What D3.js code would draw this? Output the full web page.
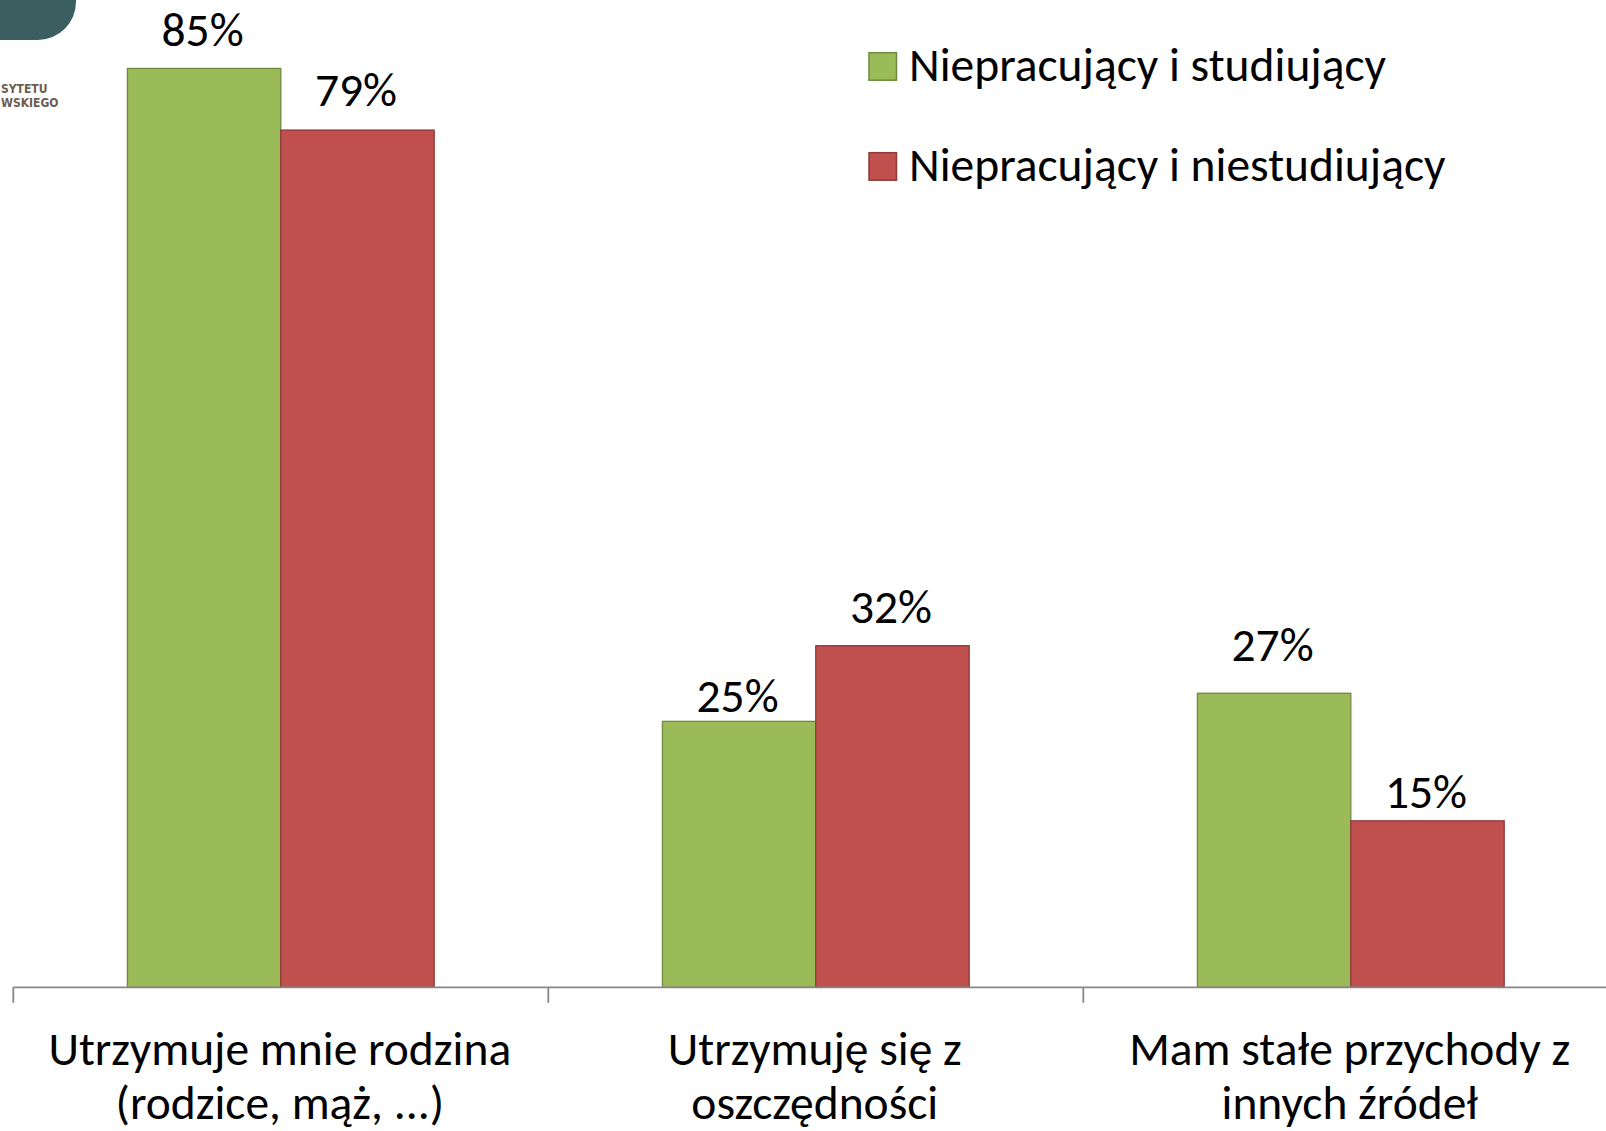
<!DOCTYPE html>
<html>
<head>
<meta charset="utf-8">
<script src="https://cdn.jsdelivr.net/npm/d3@7"></script>
<style>
  body { margin: 0; background: #fff; }
  svg { display: block; }
  text { font-family: Carlito, Calibri, Lato, sans-serif; fill: #000; }
  text.logo { font-family: "DejaVu Sans Condensed", sans-serif; font-weight: bold; font-size: 12px; fill: #6c5e4f; }
</style>
</head>
<body>
<div id="app"></div>
<script>
// categories (two lines each)
const categories = [
	["Utrzymuje mnie rodzina", "(rodzice, mąż, ...)"],
	["Utrzymuję się z", "oszczędności"],
	["Mam stałe przychody z", "innych źródeł"]
];
const seriesNames = ["Niepracujący i studiujący", "Niepracujący i niestudiujący"];
const studying = [85.0, 24.6, 27.2];
const notStudying = [79.3, 31.6, 15.4];

// label nudges (px above bar top)
const labelGapStudying = [22, 9, 32];
const labelGapNotStudying = [24, 23, 13];

const colors = ["#9bbb59", "#c0504d"];
const strokes = ["#6f8a3c", "#8e3a37"];

const W = 1606, H = 1131;
const axisY = 987.3;

const svg = d3.select("#app").append("svg")
	.attr("width", W)
	.attr("height", H);

const catKeys = categories.map(c => c.join(" "));

let x = d3.scaleBand()
	.domain(catKeys)
	.range([13.3, 13.3 + 3 * 535])
	.padding(0);

let xs = d3.scaleBand()
	.domain([0, 1])
	.range([0, x.bandwidth()])
	.paddingInner(0)
	.paddingOuter(0.744);

let y = d3.scaleLinear()
	.domain([0, 100])
	.range([axisY, axisY - 1081]);

const rows = [];
catKeys.forEach(function(k, i) {
	rows.push({ cat: k, s: 0, value: studying[i], gap: labelGapStudying[i] });
	rows.push({ cat: k, s: 1, value: notStudying[i], gap: labelGapNotStudying[i] });
});

// logo fragment (top-left corner)
svg.append("rect")
	.attr("x", -60)
	.attr("y", -60)
	.attr("width", 136)
	.attr("height", 100)
	.attr("rx", 38)
	.attr("fill", "#3b5f61");

svg.append("text").attr("class", "logo").attr("x", 1).attr("y", 93.3).text("SYTETU");
svg.append("text").attr("class", "logo").attr("x", 1).attr("y", 106.8).text("WSKIEGO");

// bars
svg.selectAll(".bar")
	.data(rows)
	.enter()
	.append("rect")
		.attr("class", "bar")
		.attr("x", d => x(d.cat) + xs(d.s))
		.attr("y", d => y(d.value))
		.attr("width", xs.bandwidth())
		.attr("height", d => axisY - y(d.value))
		.attr("fill", d => colors[d.s])
		.attr("stroke", d => strokes[d.s])
		.attr("stroke-width", 1.3);

// value labels
svg.selectAll(".val")
	.data(rows)
	.enter()
	.append("text")
		.attr("class", "val")
		.attr("x", d => x(d.cat) + xs(d.s) + xs.bandwidth() / 2 - 1.5)
		.attr("y", d => y(d.value) - d.gap)
		.attr("text-anchor", "middle")
		.style("font-size", "47.5px")
		.text(d => Math.round(d.value) + "%");

// category axis
const axis = svg.append("g").attr("class", "axis");
axis.append("line")
	.attr("x1", x.range()[0])
	.attr("x2", x.range()[1])
	.attr("y1", axisY)
	.attr("y2", axisY)
	.attr("stroke", "#878787")
	.attr("stroke-width", 1.8);

const tickXs = catKeys.map(k => x(k)).concat([x.range()[1]]);
axis.selectAll(".tick")
	.data(tickXs)
	.enter()
	.append("line")
		.attr("class", "tick")
		.attr("x1", d => d)
		.attr("x2", d => d)
		.attr("y1", axisY)
		.attr("y2", axisY + 15.5)
		.attr("stroke", "#878787")
		.attr("stroke-width", 1.8);

const catLabels = axis.selectAll(".cat")
	.data(categories)
	.enter()
	.append("text")
		.attr("class", "cat")
		.attr("text-anchor", "middle")
		.style("font-size", "47.5px");

catLabels.selectAll("tspan")
	.data((d, i) => d.map(line => ({ line: line, key: catKeys[i] })))
	.enter()
	.append("tspan")
		.attr("x", d => x(d.key) + x.bandwidth() / 2 - 1)
		.attr("y", (d, j) => 1065 + j * 54)
		.text(d => d.line);

// legend
const legend = svg.append("g").attr("class", "legend");
const items = legend.selectAll("g")
	.data(seriesNames)
	.enter()
	.append("g")
		.attr("transform", (d, i) => "translate(869," + (52.7 + i * 100) + ")");

items.append("rect")
	.attr("width", 27.5)
	.attr("height", 27.5)
	.attr("fill", (d, i) => colors[i])
	.attr("stroke", (d, i) => strokes[i])
	.attr("stroke-width", 1.5);

items.append("text")
	.attr("x", 40)
	.attr("y", 28.7)
	.style("font-size", "47.5px")
	.text(d => d);
</script>
</body>
</html>
